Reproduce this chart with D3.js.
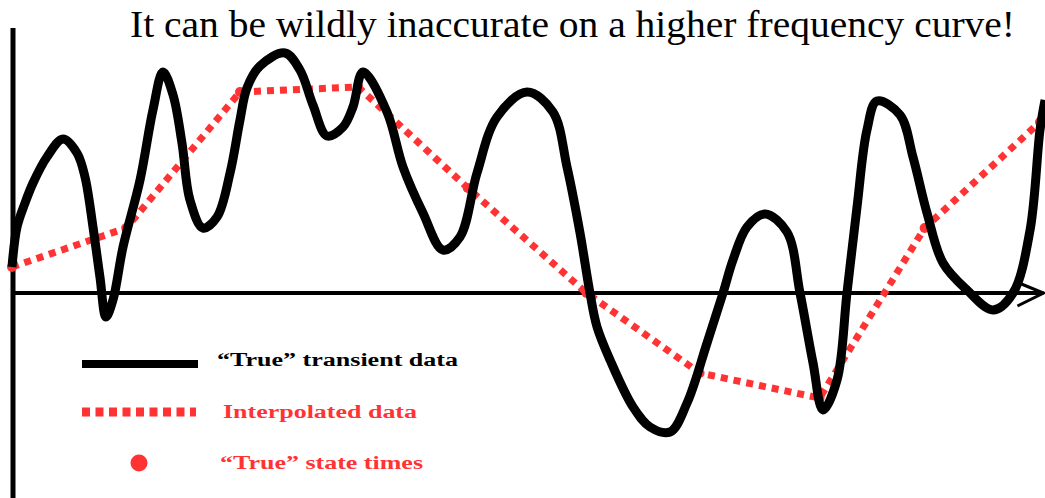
<!DOCTYPE html>
<html>
<head>
<meta charset="utf-8">
<script src="https://cdn.jsdelivr.net/npm/d3@7"></script>
<style>
html,body{margin:0;padding:0;background:#fff;}
svg{display:block;}
</style>
</head>
<body>
<script>
// ---- data ----
const titleText = "It can be wildly inaccurate on a higher frequency curve!";
const legendLabels = ["\u201cTrue\u201d transient data", "Interpolated data", "\u201cTrue\u201d state times"];

// "True" transient data (time, value)
const trueT = [0,0.044,0.114,0.184,0.306,0.447,0.569,0.639,0.709,0.770,0.823,0.884,0.972,1.121,1.234,1.322,1.410,1.488,1.558,1.672,1.795,1.909,1.996,2.057,2.171,2.390,2.521,2.635,2.758,2.898,2.985,3.073,3.283,3.423,3.598,3.773,3.922,4.071,4.246,4.509,4.736,4.859,4.973,5.060,5.122,5.236,5.437,5.586,5.761,5.910,6.085,6.225,6.312,6.435,6.593,6.785,6.899,7.013,7.100,7.223,7.310,7.398,7.485,7.573,7.775,7.888,8.011,8.151,8.361,8.589,8.764,8.913,9.000,9.044];
const trueV = [0.26,0.66,0.90,1.10,1.36,1.54,1.40,1.16,0.66,0.16,-0.24,-0.07,0.46,1.13,1.83,2.21,1.98,1.50,0.93,0.65,0.76,1.20,1.73,2.05,2.27,2.40,2.23,1.88,1.57,1.66,1.86,2.21,1.81,1.26,0.80,0.43,0.56,1.20,1.76,2.01,1.81,1.26,0.60,0.00,-0.34,-0.67,-1.14,-1.34,-1.39,-1.10,-0.50,0.00,0.33,0.66,0.79,0.61,0.00,-0.70,-1.17,-0.87,0.00,0.86,1.63,1.92,1.78,1.36,0.80,0.30,0.03,-0.17,0.00,0.63,1.63,1.93];

// "True" state times and interpolated values
const stateT = [0,1.0,1.996,3.03,3.99,5.03,6.02,7.07,7.99,9.0];
const stateV = [0.26,0.65,2.01,2.06,1.05,0.00,-0.80,-1.05,0.65,1.71];

// axis extents
const axisT = [0, 9.03];
const axisV = [-2.05, 2.65];

// ---- drawing ----
const W = 1045, H = 498;
const RED = "#ff3333";
const svg = d3.select("body").append("svg").attr("width", W).attr("height", H);

const x = d3.scaleLinear().domain([0, 9]).range([12, 1040]);
const y = d3.scaleLinear().domain([-2, 3]).range([493, -7]);

// axes
svg.append("line")
  .attr("x1", x(0) + 1).attr("x2", x(0) + 1)
  .attr("y1", y(axisV[1])).attr("y2", y(axisV[0]))
  .attr("stroke", "#000").attr("stroke-width", 5);
svg.append("line")
  .attr("x1", x(axisT[0])).attr("x2", x(axisT[1]))
  .attr("y1", y(0)).attr("y2", y(0))
  .attr("stroke", "#000").attr("stroke-width", 4);
// arrow head
const tipX = x(axisT[1]), tipY = y(0);
svg.append("path")
  .attr("d", `M${tipX-22},${tipY-9} L${tipX},${tipY} L${tipX-26},${tipY+13}`)
  .attr("fill", "none").attr("stroke", "#000").attr("stroke-width", 3);

// interpolated data
const interp = stateT.map((t, i) => [t, stateV[i]]);
svg.append("path")
  .datum(interp)
  .attr("d", d3.line().x(d => x(d[0])).y(d => y(d[1])))
  .attr("fill", "none").attr("stroke", RED).attr("stroke-width", 7)
  .attr("stroke-dasharray", "7,6");

// state time dots
svg.selectAll("circle.state").data(interp).enter().append("circle")
  .attr("class", "state")
  .attr("cx", d => x(d[0])).attr("cy", d => y(d[1])).attr("r", 5)
  .attr("fill", RED);

// true transient curve
const trueData = trueT.map((t, i) => [t, trueV[i]]);
svg.append("path")
  .datum(trueData)
  .attr("d", d3.line().curve(d3.curveCatmullRom.alpha(0.5)).x(d => x(d[0])).y(d => y(d[1])))
  .attr("fill", "none").attr("stroke", "#000").attr("stroke-width", 9)
  .attr("stroke-linejoin", "round").attr("stroke-linecap", "butt");

// title
svg.append("text")
  .attr("x", 130).attr("y", 37)
  .attr("font-family", "Liberation Serif, serif")
  .attr("font-size", 37)
  .attr("textLength", 885).attr("lengthAdjust", "spacingAndGlyphs")
  .text(titleText);

// legend
const lg = svg.append("g");
lg.append("line").attr("x1", 82).attr("x2", 198).attr("y1", 364).attr("y2", 364)
  .attr("stroke", "#000").attr("stroke-width", 8);
lg.append("line").attr("x1", 82).attr("x2", 196).attr("y1", 412).attr("y2", 412)
  .attr("stroke", RED).attr("stroke-width", 9).attr("stroke-dasharray", "8,5.5");
lg.append("circle").attr("cx", 139).attr("cy", 463).attr("r", 8.5).attr("fill", RED);

const lt = [
  {t: legendLabels[0], x: 217, y: 366, w: 241, c: "#000"},
  {t: legendLabels[1], x: 223, y: 418, w: 194, c: RED},
  {t: legendLabels[2], x: 220, y: 469, w: 203, c: RED}
];
lg.selectAll("text.lg").data(lt).enter().append("text")
  .attr("class", "lg")
  .attr("x", d => d.x).attr("y", d => d.y)
  .attr("font-family", "Liberation Serif, serif")
  .attr("font-weight", "bold").attr("font-size", 18)
  .attr("textLength", d => d.w).attr("lengthAdjust", "spacingAndGlyphs")
  .attr("fill", d => d.c)
  .text(d => d.t);
</script>
</body>
</html>
